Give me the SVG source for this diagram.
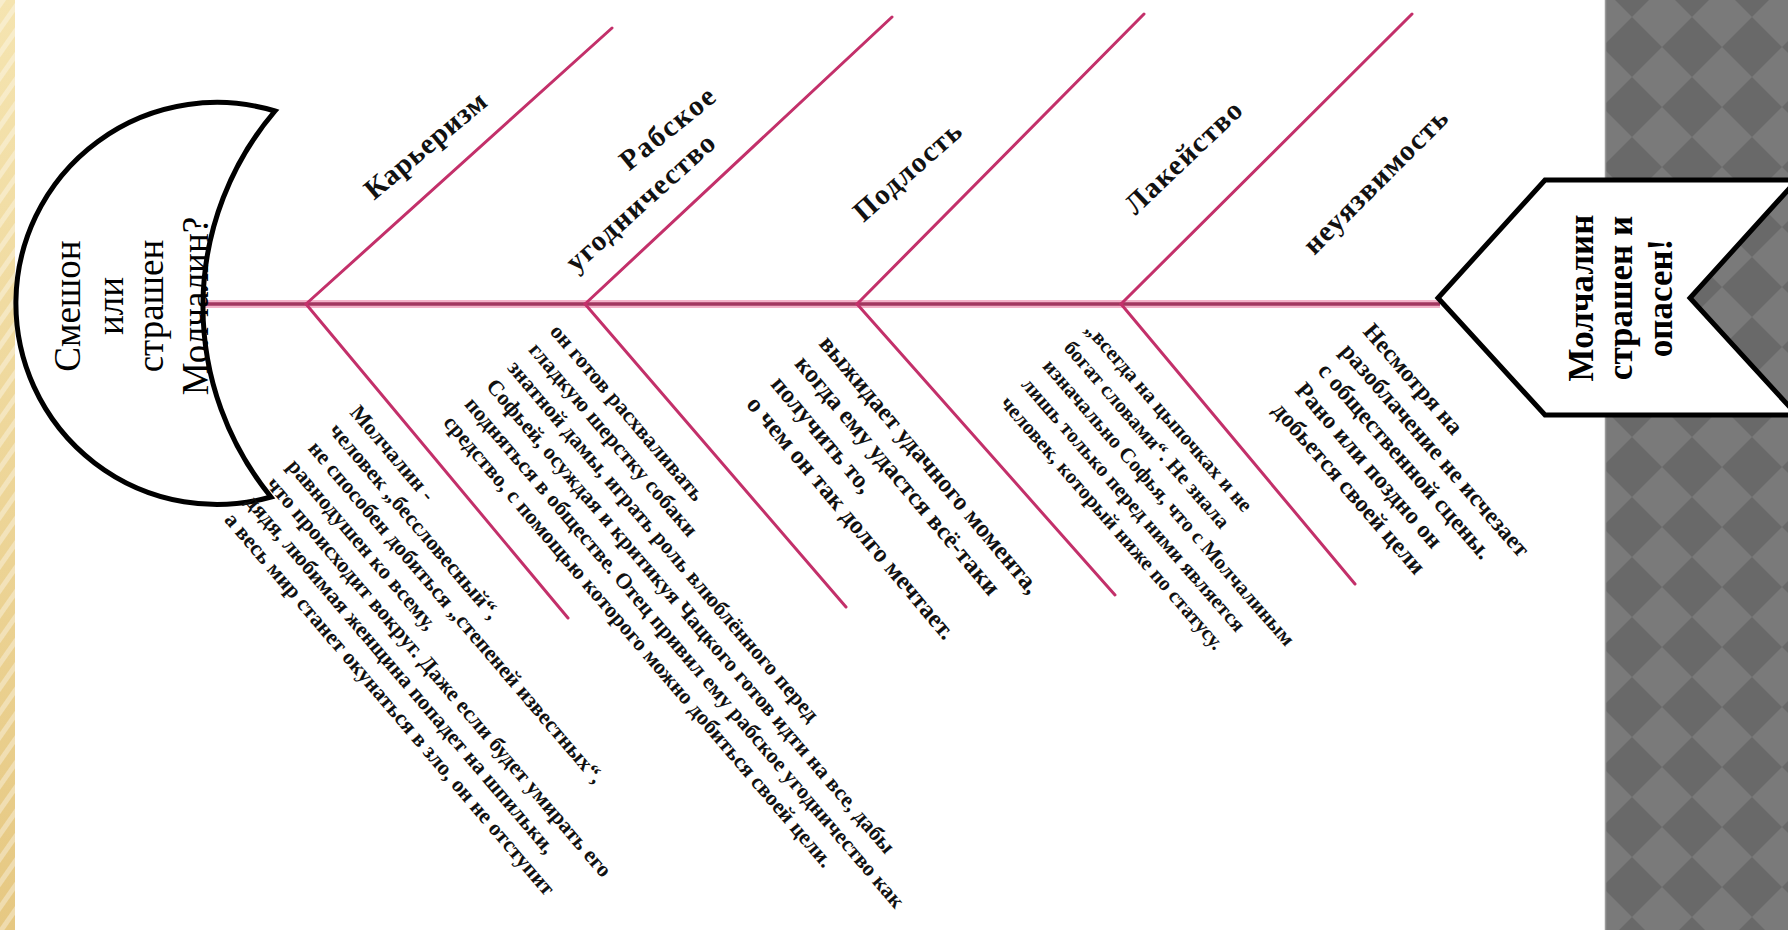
<svg xmlns="http://www.w3.org/2000/svg" width="1788" height="930" viewBox="0 0 1788 930">
<defs>
  <linearGradient id="gold" x1="0" y1="0" x2="0" y2="1">
    <stop offset="0" stop-color="#f5e4b0"/>
    <stop offset="1" stop-color="#e6c882"/>
  </linearGradient>
  <pattern id="stripes" patternUnits="userSpaceOnUse" width="14" height="14" patternTransform="rotate(-55)">
    <rect width="14" height="5" fill="#ffffff" fill-opacity="0.35"/>
  </pattern>
  <pattern id="diamonds" patternUnits="userSpaceOnUse" x="12" y="47" width="60" height="60">
    <rect width="60" height="60" fill="#696969"/>
    <polygon points="30,0 60,30 30,60 0,30" fill="#7a7a7a"/>
  </pattern>
  <style>
    .halo{stroke:#f3b3c9;stroke-width:8;fill:none}
    .spine{stroke:#a2375f;stroke-width:3.5;fill:none}
    .bone{stroke:#c3306a;stroke-width:3;fill:none;stroke-linecap:round}
    .shape{fill:#ffffff;stroke:#000000;stroke-width:5;stroke-linejoin:miter}
    .big{font-family:"Liberation Serif","DejaVu Serif",serif;font-weight:bold;font-size:35px;fill:#000;text-anchor:middle}
    .big.r{font-weight:normal;font-size:37px}
    .lbl{font-family:"Liberation Serif","DejaVu Serif",serif;font-weight:bold;font-size:29px;fill:#111;text-anchor:middle}
    .note{font-family:"Liberation Serif","DejaVu Serif",serif;font-weight:bold;font-size:22px;fill:#111}
    .note.l{font-size:25px}
    .note.m{font-size:24px}
    .note.s{font-size:21px}
  </style>
</defs>

<!-- background -->
<rect x="0" y="0" width="1788" height="930" fill="#ffffff"/>
<rect x="0" y="0" width="15" height="930" fill="url(#gold)"/>
<rect x="0" y="0" width="15" height="930" fill="url(#stripes)"/>
<rect x="1605" y="0" width="183" height="930" fill="url(#diamonds)"/>
<line x1="1605.5" y1="0" x2="1605.5" y2="930" stroke="#9a9a9a" stroke-width="1.5"/>

<!-- connectors: spine and bones -->
<g id="connectors">
  <line class="halo" x1="200" y1="304" x2="1440" y2="304"/>
  <line class="spine" x1="200" y1="304" x2="1440" y2="304"/>
  <line class="bone" x1="306" y1="304" x2="612" y2="28"/>
  <line class="bone" x1="585" y1="304" x2="892" y2="17"/>
  <line class="bone" x1="857" y1="304" x2="1144" y2="14"/>
  <line class="bone" x1="1121" y1="304" x2="1412" y2="14"/>
  <line class="bone" x1="306" y1="304" x2="568" y2="618"/>
  <line class="bone" x1="585" y1="304" x2="846" y2="607"/>
  <line class="bone" x1="857" y1="304" x2="1115" y2="595"/>
  <line class="bone" x1="1121" y1="304" x2="1355" y2="584"/>
</g>

<!-- tail: crescent with question -->
<g id="tail">
  <path class="shape" d="M 275 111 A 201 201 0 1 0 271 497 A 301 301 0 0 1 275 111 Z"/>
  <text class="big r" transform="translate(80,306) rotate(-90)">Смешон</text>
  <text class="big r" transform="translate(123,306) rotate(-90)">или</text>
  <text class="big r" transform="translate(163,306) rotate(-90)">страшен</text>
  <text class="big r" transform="translate(208,306) rotate(-90)">Молчалин?</text>
</g>

<!-- head: chevron with conclusion -->
<g id="head">
  <polygon class="shape" points="1438,298 1545,180 1797,180 1690,298 1797,415 1545,415"/>
  <text class="big" transform="translate(1593,298) rotate(-90)">Молчалин</text>
  <text class="big" transform="translate(1632,298) rotate(-90)">страшен и</text>
  <text class="big" transform="translate(1672,298) rotate(-90)">опасен!</text>
</g>

<!-- cause 1 -->
<g id="cause-kareerizm">
  <text class="lbl" transform="translate(425,145) rotate(-40)" y="10" textLength="150" lengthAdjust="spacing">Карьеризм</text>
  <g transform="translate(349,413) rotate(49.5)">
    <text class="note" x="0" y="0">Молчалин -</text>
    <text class="note" x="0" y="27.5">человек „бессловесный“,</text>
    <text class="note" x="0" y="55">не способен добиться „степеней известных“,</text>
    <text class="note" x="0" y="82.5">равнодушен ко всему,</text>
    <text class="note" x="0" y="110">что происходит вокруг. Даже если будет умирать его</text>
    <text class="note" x="0" y="137.5">дядя, любимая женщина попадет на шпильки,</text>
    <text class="note" x="0" y="165">а весь мир станет окунаться в  зло, он не отступит</text>
  </g>
</g>

<!-- cause 2 -->
<g id="cause-rabskoe">
  <text class="lbl" transform="translate(667,128) rotate(-39)" y="10" textLength="114" lengthAdjust="spacing">Рабское</text>
  <text class="lbl" transform="translate(640,202) rotate(-42)" y="10" textLength="190" lengthAdjust="spacing">угодничество</text>
  <g transform="translate(549,332) rotate(49.5)">
    <text class="note" x="0" y="0">он готов расхваливать</text>
    <text class="note" x="0" y="28">гладкую шерстку собаки</text>
    <text class="note" x="0" y="56">знатной дамы, играть роль влюблённого перед</text>
    <text class="note" x="0" y="84">Софьей, осуждая и критикуя Чацкого готов идти на все, дабы</text>
    <text class="note" x="0" y="112">подняться в обществе. Отец привил ему рабское угодничество как</text>
    <text class="note" x="0" y="140">средство, с помощью которого можно добиться своей цели.</text>
  </g>
</g>

<!-- cause 3 -->
<g id="cause-podlost">
  <text class="lbl" transform="translate(907,171) rotate(-41.5)" y="10" textLength="134" lengthAdjust="spacing">Подлость</text>
  <g transform="translate(818,344) rotate(50)">
    <text class="note l" x="0" y="0">выжидает удачного момента,</text>
    <text class="note l" x="0" y="31.5">когда ему удастся всё-таки</text>
    <text class="note l" x="0" y="63">получить то,</text>
    <text class="note l" x="0" y="94.5">о чем он так долго мечтает.</text>
  </g>
</g>

<!-- cause 4 -->
<g id="cause-lakeistvo">
  <text class="lbl" transform="translate(1183,157) rotate(-43.6)" y="10" textLength="150" lengthAdjust="spacing">Лакейство</text>
  <g transform="translate(1084,330) rotate(49)">
    <text class="note s" x="0" y="0">„всегда на цыпочках и не</text>
    <text class="note s" x="0" y="28">богат словами“. Не знала</text>
    <text class="note s" x="0" y="56">изначально Софья, что с Молчалиным</text>
    <text class="note s" x="0" y="84">лишь только перед ними является</text>
    <text class="note s" x="0" y="112">человек, который ниже по статусу.</text>
  </g>
</g>

<!-- cause 5 -->
<g id="cause-neuyazvimost">
  <text class="lbl" transform="translate(1375,181) rotate(-45)" y="10" textLength="192" lengthAdjust="spacing">неуязвимость</text>
  <g transform="translate(1362,332) rotate(49)">
    <text class="note m" x="0" y="0">Несмотря на</text>
    <text class="note m" x="0" y="30">разоблачение не исчезает</text>
    <text class="note m" x="0" y="60">с общественной сцены.</text>
    <text class="note m" x="0" y="90">Рано или поздно он</text>
    <text class="note m" x="0" y="120">добьется своей цели</text>
  </g>
</g>
</svg>
